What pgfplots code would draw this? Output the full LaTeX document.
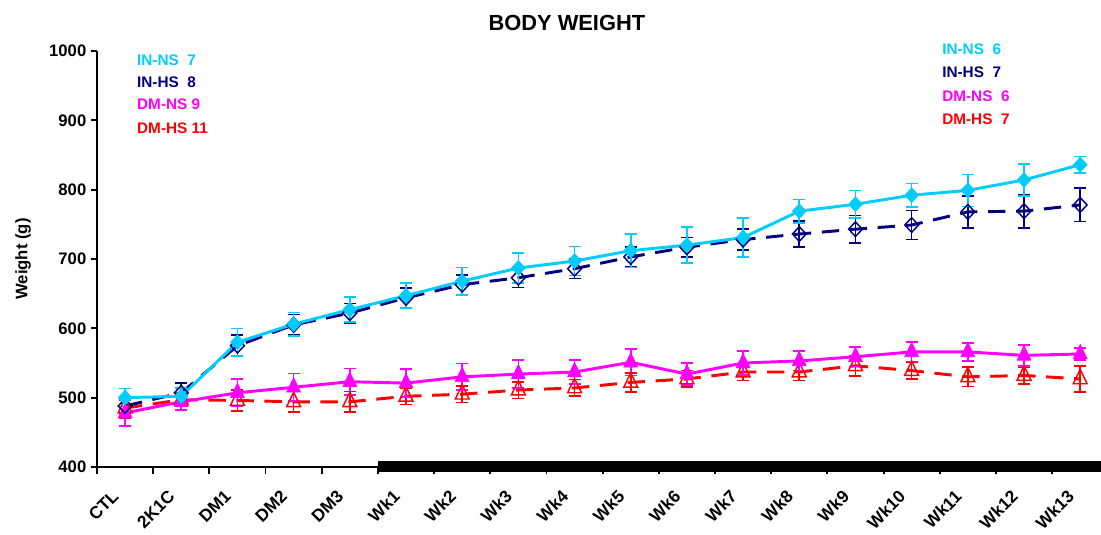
\documentclass[border=0pt]{standalone}
\usepackage{fontspec}
\setmainfont{Liberation Sans}
\usepackage{pgfplots}
\pgfplotsset{compat=1.18}
\usepackage{pgfplotstable}
\definecolor{cin}{RGB}{0,204,255}
\definecolor{navyb}{RGB}{0,0,128}
\definecolor{magc}{RGB}{255,0,255}
\definecolor{redc}{RGB}{255,0,0}

\pgfplotstableread{
x y e
0 500 13
1 502 12
2 580 20
3 606 17
4 627 18
5 647 18
6 668 20
7 687 22
8 697 21
9 712 24
10 720 26
11 731 28
12 769 17
13 779 20
14 792 17
15 799 23
16 814 23
17 836 12
}\inns
\pgfplotstableread{
x y e
0 488 10
1 507 14
2 575 15
3 605 15
4 622 14
5 644 14
6 663 14
7 673 14
8 686 14
9 703 14
10 717 14
11 728 15
12 736 19
13 743 20
14 749 21
15 768 23
16 769 24
17 778 24
}\inhs
\pgfplotstableread{
x y e
0 478 19
1 494 12
2 507 20
3 515 20
4 523 19
5 521 20
6 530 19
7 534 20
8 537 17
9 551 19
10 534 16
11 550 17
12 553 14
13 559 14
14 566 14
15 566 13
16 561 15
17 563 9
}\dmns
\pgfplotstableread{
x y e
0 485 14
1 497 10
2 496 15
3 494 15
4 494 15
5 502 12
6 505 12
7 511 12
8 514 12
9 522 14
10 527 12
11 537 12
12 537 12
13 546 15
14 539 12
15 530 14
16 532 12
17 527 19
}\dmhs

\begin{document}
\begin{tikzpicture}
\path[use as bounding box] (-72.75pt,-51pt) rectangle (753pt,350.25pt);
\begin{axis}[
  at={(0,0)}, anchor=south west,
  scale only axis,
  width=753pt, height=312pt,
  xmin=-0.5, xmax=17.37, ymin=400, ymax=1000,
  axis x line*=bottom, axis y line*=left,
  axis line style={line width=1.6pt, -},
  clip=false,
  ytick={400,500,...,1000},
  xtick={0,...,17},
  xticklabels={CTL,2K1C,DM1,DM2,DM3,Wk1,Wk2,Wk3,Wk4,Wk5,Wk6,Wk7,Wk8,Wk9,Wk10,Wk11,Wk12,Wk13},
  minor xtick={-0.5,0.5,...,16.5},
  major x tick style={draw=none},
  tick align=outside,
  major tick length=4.5pt, minor tick length=5pt,
  tick style={line width=1.4pt, black},
  /pgf/number format/assume math mode=true,
  /pgf/number format/1000 sep={},
  yticklabel style={font=\fontsize{12.5}{14}\selectfont\bfseries},
  xticklabel style={font=\fontsize{13}{15}\selectfont\bfseries, inner sep=1pt, xshift=-10.5pt, yshift=-10.5pt, rotate=45, anchor=north east},
  title={BODY WEIGHT},
  title style={at={(axis description cs:0.468,1)}, anchor=center, yshift=15pt, font=\fontsize{16.4}{18}\selectfont\bfseries},
  ylabel={Weight (g)},
  ylabel style={at={(axis description cs:-0.0737,0.5)}, anchor=center, font=\fontsize{12.5}{14}\selectfont\bfseries},
  every axis plot/.append style={line width=2.2pt},
]
\fill[black] (axis cs:4.5,393) rectangle (axis cs:17.37,409);

\addplot[color=redc, dash pattern=on 13pt off 8pt, mark=triangle, mark size=6pt,
  mark options={solid, line width=1.1pt, fill=white, yscale=1.2},
  error bars/.cd, y dir=both, y explicit,
  error bar style={solid, line width=1.2pt, redc},
  error mark options={solid, line width=1.2pt, redc, mark size=4.5pt, rotate=90}]
  table[x=x, y=y, y error=e] {\dmhs};

\addplot[color=magc, solid, mark=triangle*, mark size=6pt,
  mark options={solid, line width=0.5pt, fill=magc, yscale=1.2},
  error bars/.cd, y dir=both, y explicit,
  error bar style={solid, line width=1.2pt, magc},
  error mark options={solid, line width=1.2pt, magc, mark size=4.5pt, rotate=90}]
  table[x=x, y=y, y error=e] {\dmns};

\addplot[color=navyb, dash pattern=on 13pt off 8pt, mark=diamond, mark size=5.5pt,
  mark options={solid, line width=1.1pt, fill=white, xscale=1.25},
  error bars/.cd, y dir=both, y explicit,
  error bar style={solid, line width=1.2pt, navyb},
  error mark options={solid, line width=1.2pt, navyb, mark size=4.5pt, rotate=90}]
  table[x=x, y=y, y error=e] {\inhs};

\addplot[color=cin, solid, mark=diamond*, mark size=5.5pt,
  mark options={solid, line width=0.5pt, fill=cin, xscale=1.25},
  error bars/.cd, y dir=both, y explicit,
  error bar style={solid, line width=1.2pt, cin},
  error mark options={solid, line width=1.2pt, cin, mark size=4.5pt, rotate=90}]
  table[x=x, y=y, y error=e] {\inns};

\begin{scope}[every node/.style={anchor=west, font=\fontsize{11.5}{13}\selectfont\bfseries, inner sep=0pt}]
\node[text=cin]   at (axis cs:0.21,987) {IN-NS\ \ 7};
\node[text=navyb] at (axis cs:0.21,955) {IN-HS\ \ 8};
\node[text=magc]  at (axis cs:0.21,923) {DM-NS 9};
\node[text=redc]  at (axis cs:0.21,889) {DM-HS 11};
\node[text=cin]   at (axis cs:14.54,1003) {IN-NS\ \ 6};
\node[text=navyb] at (axis cs:14.54,969) {IN-HS\ \ 7};
\node[text=magc]  at (axis cs:14.54,935) {DM-NS\ \ 6};
\node[text=redc]  at (axis cs:14.54,902) {DM-HS\ \ 7};
\end{scope}
\end{axis}
\end{tikzpicture}
\end{document}
